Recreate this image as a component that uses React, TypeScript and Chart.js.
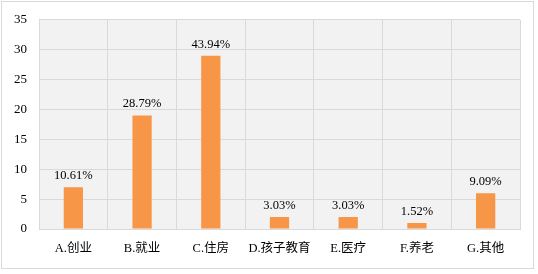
import React, { useEffect, useRef } from "react";
import { Chart, registerables } from "chart.js";

Chart.register(...registerables);

const categories = ["A.创业", "B.就业", "C.住房", "D.孩子教育", "E.医疗", "F.养老", "G.其他"];
const counts = [7, 19, 29, 2, 2, 1, 6];
const percentLabels = ["10.61%", "28.79%", "43.94%", "3.03%", "3.03%", "1.52%", "9.09%"];
const yTicks = [0, 5, 10, 15, 20, 25, 30, 35];

const FONT = "'Liberation Serif', 'Times New Roman', 'Noto Sans CJK SC', serif";

export default function App() {
  const ref = useRef<HTMLCanvasElement | null>(null);

  useEffect(() => {
    if (!ref.current) return;
    const bgPlugin = {
      id: "plotBg",
      beforeDraw(chart: any) {
        const { ctx, chartArea } = chart;
        ctx.save();
        ctx.fillStyle = "#f2f2f2";
        ctx.fillRect(chartArea.left, chartArea.top, chartArea.right - chartArea.left, chartArea.bottom - chartArea.top);
        ctx.restore();
      },
    };
    const labelPlugin = {
      id: "barLabels",
      afterDatasetsDraw(chart: any) {
        const { ctx } = chart;
        const meta = chart.getDatasetMeta(0);
        ctx.save();
        ctx.font = `12.5px ${FONT}`;
        ctx.fillStyle = "#000";
        ctx.textAlign = "center";
        ctx.textBaseline = "bottom";
        meta.data.forEach((el: any, i: number) => {
          ctx.fillText(percentLabels[i], el.x, el.y - 5);
        });
        ctx.restore();
      },
    };
    const chart = new Chart(ref.current, {
      type: "bar",
      data: {
        labels: categories,
        datasets: [
          {
            data: counts,
            backgroundColor: "#f79646",
            categoryPercentage: 1,
            barPercentage: 0.28,
          },
        ],
      },
      options: {
        responsive: false,
        animation: false,
        devicePixelRatio: 1,
        layout: { padding: { left: 0, right: 18, top: 14, bottom: 0 } },
        plugins: { legend: { display: false }, tooltip: { enabled: false } },
        scales: {
          x: {
            grid: { color: "#d9d9d9", lineWidth: 1, drawTicks: false, offset: true },
            border: { color: "#d9d9d9" },
            ticks: { color: "#000", font: { family: FONT, size: 12.5 }, padding: 12, maxRotation: 0 },
            afterFit(scale: any) {
              scale.height = 45;
            },
          },
          y: {
            min: 0,
            max: 35,
            grid: { color: "#d9d9d9", lineWidth: 1, drawTicks: false },
            border: { color: "#d9d9d9" },
            afterBuildTicks(scale: any) {
              scale.ticks = yTicks.map((v) => ({ value: v }));
            },
            ticks: { color: "#000", font: { family: FONT, size: 13 }, padding: 12 },
            afterFit(scale: any) {
              scale.width = 39;
            },
          },
        },
      },
      plugins: [bgPlugin, labelPlugin],
    });
    return () => chart.destroy();
  }, []);

  return (
    <div style={{ position: "fixed", left: 0, top: 0, width: 538, height: 274, background: "#fff" }}>
      <div
        style={{
          position: "absolute",
          left: 1,
          top: 1,
          width: 533,
          height: 268,
          border: "1px solid #d9d9d9",
          boxSizing: "border-box",
        }}
      />
      <canvas ref={ref} width={538} height={274} style={{ position: "absolute", left: 0, top: 0 }} />
    </div>
  );
}
